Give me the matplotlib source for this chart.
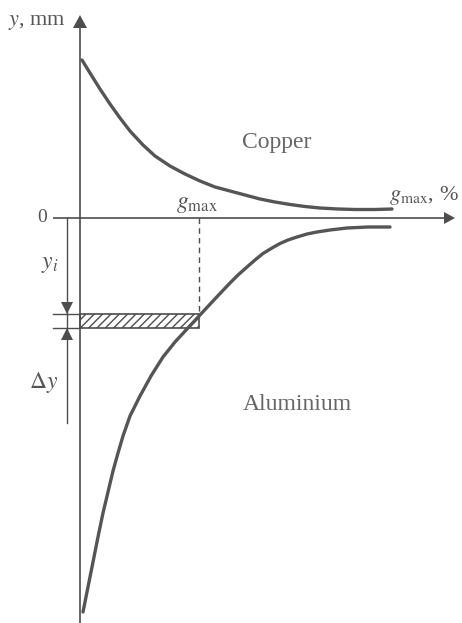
import matplotlib
matplotlib.use("Agg")
import matplotlib.pyplot as plt
from matplotlib.patches import Polygon, Rectangle

plt.rcParams['font.family'] = ['Liberation Serif', 'DejaVu Serif']
plt.rcParams['mathtext.fontset'] = 'stix'
plt.rcParams['hatch.color'] = '#555555'
plt.rcParams['hatch.linewidth'] = 1.0

# Deflection y versus g_max for the two conductor materials (schematic units)
copper_g = [2, 10, 20, 30, 40, 50, 63, 75, 90, 105, 120, 135, 150, 165, 180,
            195, 210, 225, 240, 258, 275, 295, 312]
copper_y = [158, 145, 129, 114, 100, 87, 73, 62, 52, 44, 37, 31, 27, 23, 19,
            16, 13.5, 11.5, 10, 9, 8.5, 8.5, 9]

aluminium_g = [3, 8, 13, 18, 23, 28, 33, 38, 43, 50, 60, 71, 83, 95, 107,
               120, 133, 141, 150, 158, 167, 175, 183, 192, 200, 208, 217,
               227, 237, 250, 267, 288, 310]
aluminium_y = [-394, -369, -344, -319, -295, -274, -253, -235, -218, -198,
               -178, -158, -139, -124, -111, -97, -83, -74.5, -65, -57, -49,
               -42, -35.5, -30, -25.5, -22, -19, -16, -14, -12, -10, -9, -9]

# Chosen g_max, the corresponding y_i and the band Δy
g_max = 119
y_i = -96
delta_y = 14

axis_col = '#4d4d4d'
curve_col = '#555555'

fig = plt.figure(figsize=(4.62, 6.23), dpi=100)
ax = fig.add_axes([0, 0, 1, 1])
ax.set_xlim(-80, 382)
ax.set_ylim(-405, 218)
ax.axis('off')

# axes with arrow heads
ax.plot([0, 0], [-405, 192], color=axis_col, lw=1.2, solid_capstyle='butt')
ax.add_patch(Polygon([[0, 203], [-7, 190], [7, 190]], closed=True,
                     color=axis_col, lw=0))
ax.plot([-27, 366], [0, 0], color=axis_col, lw=1.2, solid_capstyle='butt')
ax.add_patch(Polygon([[375, 0], [364, 6], [364, -6]], closed=True,
                     color=axis_col, lw=0))

# curves
ax.plot(copper_g, copper_y, color=curve_col, lw=2.4, solid_capstyle='round',
        solid_joinstyle='round')
ax.plot(aluminium_g, aluminium_y, color=curve_col, lw=2.4,
        solid_capstyle='round', solid_joinstyle='round')

# dashed projection from g_max down to the band
ax.plot([g_max, g_max], [0, y_i], color=axis_col, lw=1.0,
        linestyle=(0, (4, 3)))

# hatched band of width Δy
ax.add_patch(Rectangle((0, y_i - delta_y), g_max, delta_y, facecolor='none',
                       edgecolor=axis_col, lw=1.2, hatch='////'))

# dimension line with extension lines and arrows
dim_x = -13
ax.plot([-27, 0], [y_i, y_i], color=axis_col, lw=1.0)
ax.plot([-27, 0], [y_i - delta_y, y_i - delta_y], color=axis_col, lw=1.0)
ax.plot([dim_x, dim_x], [0, -205], color=axis_col, lw=1.0)
ax.add_patch(Polygon([[dim_x, y_i], [dim_x - 6, y_i + 12],
                      [dim_x + 6, y_i + 12]], closed=True, color=axis_col,
                     lw=0))
ax.add_patch(Polygon([[dim_x, y_i - delta_y], [dim_x - 6, y_i - delta_y - 12],
                      [dim_x + 6, y_i - delta_y - 12]], closed=True,
                     color=axis_col, lw=0))

# labels
txt = '#555555'
ax.text(-43, 196, r'$y$, mm', ha='center', va='center', fontsize=16,
        color=txt)
ax.text(-38, 0, '0', ha='center', va='center', fontsize=14, color=txt)
ax.text(117, 13, r'$g_{\mathrm{max}}$', ha='center', va='center',
        fontsize=17, color=txt)
ax.text(379, 22, r'$g_{\mathrm{max}}$, %', ha='right', va='center',
        fontsize=16, color=txt)
ax.text(197, 75, 'Copper', ha='center', va='center', fontsize=17,
        color='#666666')
ax.text(217, -187, 'Aluminium', ha='center', va='center', fontsize=17,
        color='#666666')
ax.text(-30, -47, r'$y_i$', ha='center', va='center', fontsize=17,
        color=txt)
ax.text(-36, -165, r'$\Delta y$', ha='center', va='center', fontsize=17,
        color=txt)

fig.savefig('out.png', dpi=100, facecolor='white')
